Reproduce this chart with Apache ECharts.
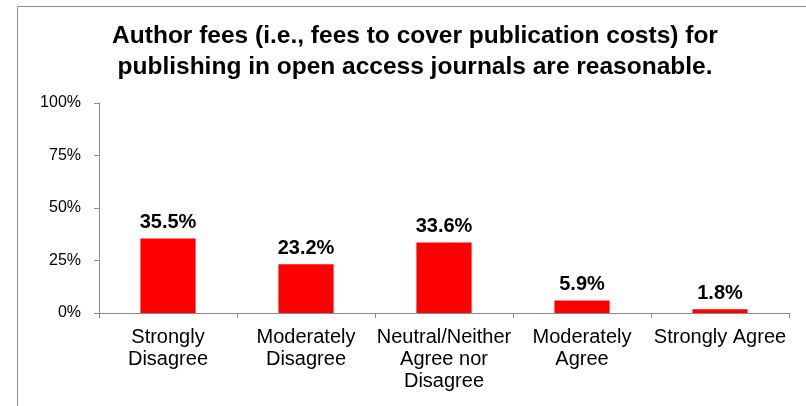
<!DOCTYPE html>
<html><head><meta charset="utf-8">
<script src="https://cdn.jsdelivr.net/npm/echarts@6/dist/echarts.min.js"></script>
<style>html,body{margin:0;padding:0;background:#fff}#c{width:806px;height:406px}</style>
</head><body><div id="c"></div>
<script>
const categories = ['Strongly\nDisagree', 'Moderately\nDisagree', 'Neutral/Neither\nAgree nor\nDisagree', 'Moderately\nAgree', 'Strongly Agree'];
const values = [35.5, 23.2, 33.6, 5.9, 1.8];
const yTicks = [0, 25, 50, 75, 100];
const titleLines = ['Author fees (i.e., fees to cover publication costs) for', 'publishing in open access journals are reasonable.'];

const chart = echarts.init(document.getElementById('c'), null, {renderer: 'canvas'});
chart.setOption({
  animation: false,
  backgroundColor: '#fff',
  textStyle: {fontFamily: 'Liberation Sans, Arial, sans-serif'},
  graphic: [
    {type: 'rect', shape: {x: 17.5, y: 6.5, width: 900, height: 500}, style: {fill: 'none', stroke: '#8c8c8c', lineWidth: 1}, silent: true},
    {type: 'text', x: 415, y: 21, style: {text: titleLines.join('\n'), font: 'bold 24.5px "Liberation Sans", Arial, sans-serif', fill: '#000', textAlign: 'center', lineHeight: 31}}
  ],
  grid: {left: 99, right: 17, top: 103, bottom: 93, containLabel: false},
  xAxis: {
    type: 'category', data: categories,
    axisLine: {lineStyle: {color: '#8c8c8c'}},
    axisTick: {show: true, length: 5, alignWithLabel: false, lineStyle: {color: '#8c8c8c'}},
    axisLabel: {color: '#000', fontSize: 20, lineHeight: 22, margin: 13, interval: 0, fontFamily: 'Liberation Sans, Arial, sans-serif'}
  },
  yAxis: {
    type: 'value', min: 0, max: 100, interval: 25,
    axisLine: {show: true, lineStyle: {color: '#8c8c8c'}},
    axisTick: {show: true, length: 5, lineStyle: {color: '#8c8c8c'}},
    splitLine: {show: false},
    axisLabel: {color: '#000', fontSize: 16, margin: 18, formatter: v => yTicks.includes(v) ? v + '%' : '', fontFamily: 'Liberation Sans, Arial, sans-serif'}
  },
  series: [{
    type: 'bar', data: values, barWidth: '40%',
    itemStyle: {color: '#ff0000'},
    label: {show: true, position: 'top', distance: 6, formatter: p => p.value.toFixed(1) + '%', color: '#000', fontWeight: 'bold', fontSize: 20, fontFamily: 'Liberation Sans, Arial, sans-serif'}
  }]
});
</script></body></html>
